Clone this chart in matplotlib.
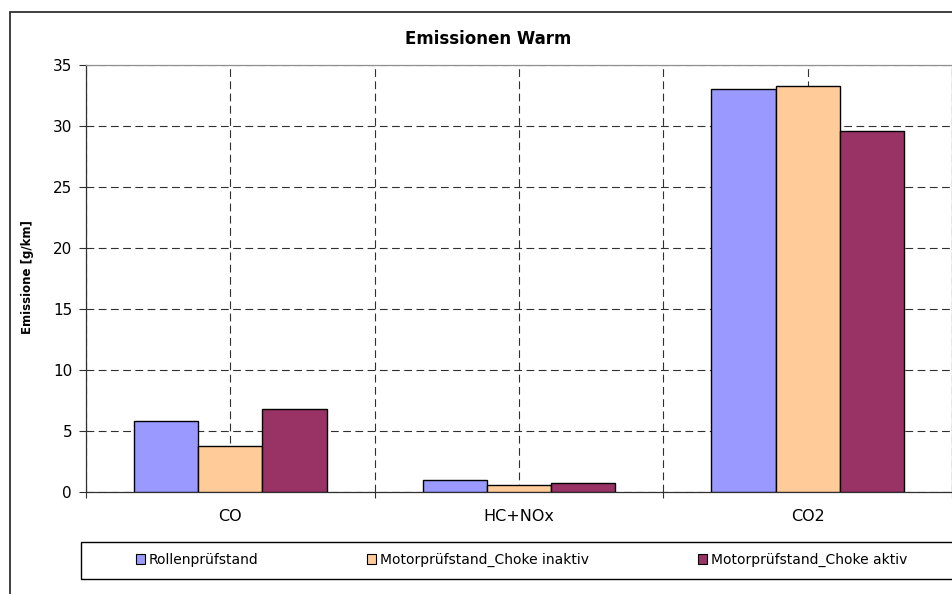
import numpy as np
import matplotlib
matplotlib.use("Agg")
import matplotlib.pyplot as plt
from matplotlib.patches import Rectangle, Patch

plt.rcParams['font.family'] = ['DejaVu Sans']

# data
categories = ["CO", "HC+NOx", "CO2"]
series_names = ["Rollenprüfstand", "Motorprüfstand_Choke inaktiv", "Motorprüfstand_Choke aktiv"]
rollen = [5.86, 1.0, 33.0]
choke_inaktiv = [3.81, 0.57, 33.28]
choke_aktiv = [6.84, 0.74, 29.57]
yticks = [0, 5, 10, 15, 20, 25, 30, 35]

colors = ["#9999FF", "#FFCC99", "#993366"]

W, H = 953, 594
fig = plt.figure(figsize=(W / 100, H / 100), dpi=100)


def fx(px):
    return px / W


def fy(py):
    return 1 - py / H


# outer chart frame (cut off at the right/bottom like the screenshot)
fig.patches.append(Rectangle((fx(10), fy(700)), fx(1100), fy(12) - fy(700),
                             transform=fig.transFigure, fill=False,
                             edgecolor="#303030", lw=1.3, zorder=0))

ax = fig.add_axes([fx(86), fy(492.3), fx(952) - fx(86), fy(64.7) - fy(492.3)])

x = np.arange(len(categories))
bw = 2 / 9
for i, (vals, name) in enumerate(zip([rollen, choke_inaktiv, choke_aktiv], series_names)):
    ax.bar(x + (i - 1) * bw, vals, width=bw, color=colors[i], edgecolor="black",
           linewidth=1.0, label=name, zorder=3)

ax.set_xlim(-0.5, len(categories) - 0.5)
ax.set_ylim(0, 35)
ax.set_yticks(yticks)
ax.set_xticks(x)
ax.set_xticklabels(categories)
ax.set_xticks(np.arange(-0.5, len(categories), 1.0), minor=True)

grid_style = dict(color="#303030", linestyle=(0, (7, 4)), linewidth=0.8)
ax.yaxis.grid(True, **grid_style, zorder=1)
ax.xaxis.grid(True, which="both", **grid_style, zorder=1)
ax.set_axisbelow(True)

ax.tick_params(axis="y", direction="out", length=5, width=0.8, pad=5,
               labelsize=11, color="#303030")
ax.tick_params(axis="x", which="major", length=0, pad=12, labelsize=11.5)
ax.tick_params(axis="x", which="minor", direction="out", length=4, width=0.8,
               color="#303030")

for side in ["left", "bottom"]:
    ax.spines[side].set_color("#303030")
    ax.spines[side].set_linewidth(0.9)
for side in ["top", "right"]:
    ax.spines[side].set_color("#909090")
    ax.spines[side].set_linewidth(0.9)

fig.text(fx(488), fy(38.5), "Emissionen Warm", ha="center", va="center",
         fontsize=12, fontweight="bold")
fig.text(fx(28), fy(277.5), "Emissione [g/km]", ha="center", va="center",
         rotation=90, fontsize=8.5, fontweight="bold")

# legend frame
fig.patches.append(Rectangle((fx(80.7), fy(579.3)), fx(1100), fy(542.3) - fy(579.3),
                             transform=fig.transFigure, fill=False,
                             edgecolor="black", lw=1.0, zorder=1))

handles = [Patch(facecolor=c, edgecolor="black", linewidth=0.8) for c in colors]
fig.legend(handles, series_names, ncol=3, mode="expand", frameon=False,
           loc="center", bbox_to_anchor=(fx(136), fy(567), fx(907) - fx(136), fy(553) - fy(567)),
           bbox_transform=fig.transFigure, borderaxespad=0, borderpad=0,
           handlelength=0.65, handleheight=0.65, handletextpad=0.25,
           fontsize=10)

fig.savefig("out.png", dpi=100)
